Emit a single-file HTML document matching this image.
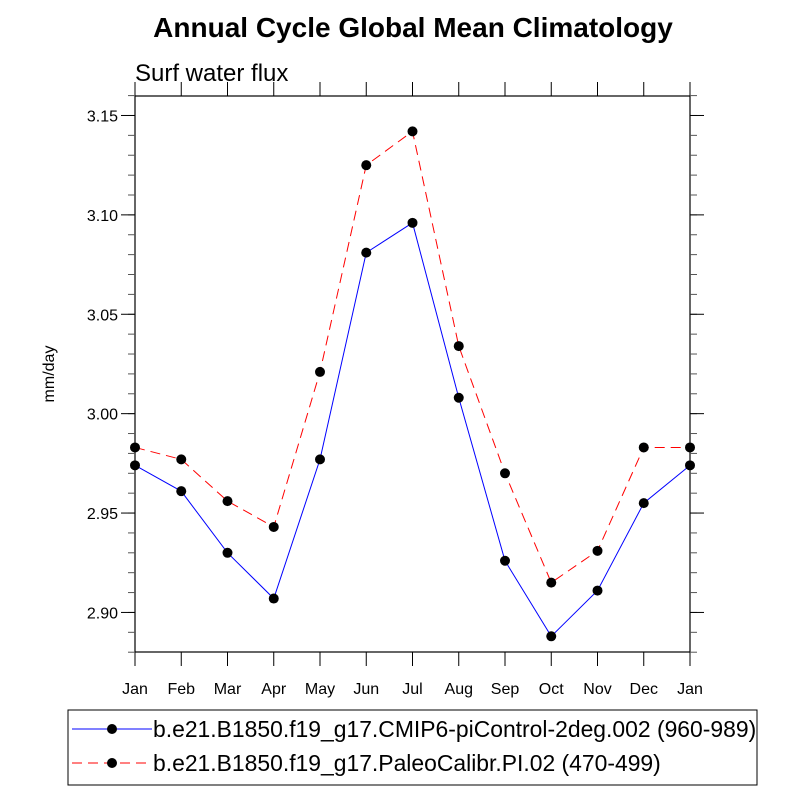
<!DOCTYPE html>
<html><head><meta charset="utf-8"><style>
html,body{margin:0;padding:0;background:#fff;}
svg{display:block;font-family:"Liberation Sans",sans-serif;}
</style></head><body>
<svg id="chart" width="800" height="800" viewBox="0 0 800 800">
<text x="413" y="37" font-size="28" font-weight="bold" text-anchor="middle">Annual Cycle Global Mean Climatology</text>
<text x="135" y="81" font-size="24">Surf water flux</text>
<text transform="translate(54,374) rotate(-90)" font-size="16" text-anchor="middle">mm/day</text>
<rect x="135" y="96" width="555" height="556" fill="none" stroke="#000" stroke-width="1.2"/>
<g id="axes"></g>
<g id="series"></g>
<rect x="68" y="710" width="689" height="75" fill="none" stroke="#000" stroke-width="1"/>
<g>
<line x1="72" y1="729" x2="152" y2="729" stroke="#0000ff" stroke-width="1"/>
<circle cx="112" cy="729" r="5" fill="#000"/>
<text x="153" y="737" font-size="22.9">b.e21.B1850.f19_g17.CMIP6-piControl-2deg.002 (960-989)</text>
</g>
<g>
<line x1="72" y1="763" x2="152" y2="763" stroke="#ff0000" stroke-width="1" stroke-dasharray="10,6"/>
<circle cx="112" cy="763" r="5" fill="#000"/>
<text x="153" y="771" font-size="22.9">b.e21.B1850.f19_g17.PaleoCalibr.PI.02 (470-499)</text>
</g>
</svg>
<script>
const months = ["Jan","Feb","Mar","Apr","May","Jun","Jul","Aug","Sep","Oct","Nov","Dec","Jan"];
const cmip6 = [2.974,2.961,2.930,2.907,2.977,3.081,3.096,3.008,2.926,2.888,2.911,2.955,2.974];
const paleo = [2.983,2.977,2.956,2.943,3.021,3.125,3.142,3.034,2.970,2.915,2.931,2.983,2.983];
const yTicks = [2.90,2.95,3.00,3.05,3.10,3.15];
const yTickLabels = ["2.90","2.95","3.00","3.05","3.10","3.15"];

const X0=135,X1=690,Y0=96,Y1=652,VMIN=2.8801,VMAX=3.1598;
const sx=i=>X0+(X1-X0)*i/(months.length-1);
const sy=v=>Y1-(v-VMIN)/(VMAX-VMIN)*(Y1-Y0);
const NS="http://www.w3.org/2000/svg";
function mk(tag,attrs,parent){const e=document.createElementNS(NS,tag);for(const k in attrs)e.setAttribute(k,attrs[k]);parent.appendChild(e);return e;}
const axes=document.getElementById('axes');
months.forEach((m,i)=>{
  const x=sx(i);
  const t1=mk('line',{x1:x,x2:x,y1:Y1,y2:Y1+14,stroke:'#000'},axes);
  
  
  mk('line',{x1:x,x2:x,y1:Y0,y2:Y0-14,stroke:'#000'},axes);
  const t=mk('text',{x:x,y:Y1+42,'font-size':16,'text-anchor':'middle'},axes);
  t.textContent=m;
  
  
});
for(let v=2.88;v<=3.16001;v+=0.01){
  const y=sy(v);if(y<Y0-0.5||y>Y1+0.5)continue;
  mk('line',{x1:X0,x2:X0-7,y1:y,y2:y,stroke:'#555'},axes);
  mk('line',{x1:X1,x2:X1+7,y1:y,y2:y,stroke:'#555'},axes);
}
yTicks.forEach((v,i)=>{
  const y=sy(v);
  const l=mk('line',{x1:X0,x2:X0-14,y1:y,y2:y,stroke:'#000'},axes);
  
  
  mk('line',{x1:X1,x2:X1+14,y1:y,y2:y,stroke:'#000'},axes);
  const t=mk('text',{x:X0-17,y:y+6,'font-size':16,'text-anchor':'end'},axes);
  t.textContent=yTickLabels[i];
  
  
});
const ser=document.getElementById('series');
function draw(vals,color,dash,name){
  const p=mk('polyline',{points:vals.map((v,i)=>sx(i)+','+sy(v)).join(' '),fill:'none',stroke:color,'stroke-width':1,'stroke-dasharray':dash},ser);
  
  
  vals.forEach((v,i)=>{
    const c=mk('circle',{cx:sx(i),cy:sy(v),r:5,fill:'#000'},ser);
    
    
  });
}
draw(paleo,'#ff0000','10,6','paleo');
draw(cmip6,'#0000ff','none','cmip6');
</script>
</body></html>
